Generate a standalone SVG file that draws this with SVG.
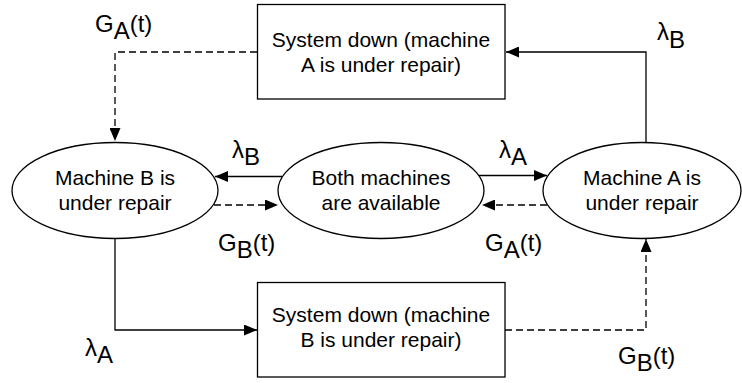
<svg xmlns="http://www.w3.org/2000/svg" width="742" height="383" viewBox="0 0 742 383">
<style>
.node{fill:#fff;stroke:#000;stroke-width:1.3}
.t{font-family:"Liberation Sans",Arial,sans-serif;font-size:21px;fill:#000;text-anchor:middle}
.lbl{font-family:"Liberation Sans",Arial,sans-serif;font-size:24px;fill:#000}
.c{fill:none;stroke:#000;stroke-width:1.3}
.d{stroke-dasharray:7 4}
</style>
<defs>
<marker id="ah" markerUnits="userSpaceOnUse" markerWidth="13" markerHeight="11" refX="13" refY="5.5" orient="auto">
<path d="M0,0 L13,5.5 L0,11 Z" fill="#000"/>
</marker>
</defs>
<g id="connectors">
<path class="c d" d="M257,52 H115 V141" marker-end="url(#ah)"/>
<path class="c" d="M646,143 V52 H506" marker-end="url(#ah)"/>
<path class="c" d="M282,176.5 H215" marker-end="url(#ah)"/>
<path class="c d" d="M214,205 H278" marker-end="url(#ah)"/>
<path class="c" d="M479,175.5 H547" marker-end="url(#ah)"/>
<path class="c d" d="M547,205 H482" marker-end="url(#ah)"/>
<path class="c" d="M115,238 V330 H257" marker-end="url(#ah)"/>
<path class="c d" d="M505,330 H646 V239" marker-end="url(#ah)"/>
</g>
<g id="down-a">
<rect class="node" x="257.5" y="4.5" width="247.5" height="94.5"/>
<text class="t" x="381" y="46.5">System down (machine</text>
<text class="t" x="381" y="72">A is under repair)</text>
</g>
<g id="down-b">
<rect class="node" x="257.5" y="282.5" width="247.5" height="94.5"/>
<text class="t" x="381" y="321.5">System down (machine</text>
<text class="t" x="381" y="347">B is under repair)</text>
</g>
<g id="repair-b">
<ellipse class="node" cx="115" cy="190.5" rx="103" ry="48"/>
<text class="t" x="115" y="185">Machine B is</text>
<text class="t" x="115" y="210">under repair</text>
</g>
<g id="both">
<ellipse class="node" cx="381" cy="190.5" rx="103" ry="48"/>
<text class="t" x="381" y="185">Both machines</text>
<text class="t" x="381" y="210">are available</text>
</g>
<g id="repair-a">
<ellipse class="node" cx="642" cy="190.5" rx="99" ry="48"/>
<text class="t" x="642" y="185">Machine A is</text>
<text class="t" x="642" y="210">under repair</text>
</g>
<g id="labels">
<text class="lbl" x="95" y="32">G<tspan dy="7">A</tspan><tspan dy="-7">(t)</tspan></text>
<text class="lbl" x="657" y="40">λ<tspan dy="8">B</tspan></text>
<text class="lbl" x="232" y="158">λ<tspan dy="7">B</tspan></text>
<text class="lbl" x="499" y="158">λ<tspan dy="7">A</tspan></text>
<text class="lbl" x="218" y="251">G<tspan dy="7">B</tspan><tspan dy="-7">(t)</tspan></text>
<text class="lbl" x="485" y="251">G<tspan dy="7">A</tspan><tspan dy="-7">(t)</tspan></text>
<text class="lbl" x="85" y="356">λ<tspan dy="7">A</tspan></text>
<text class="lbl" x="618" y="364">G<tspan dy="7">B</tspan><tspan dy="-7">(t)</tspan></text>
</g>
</svg>
